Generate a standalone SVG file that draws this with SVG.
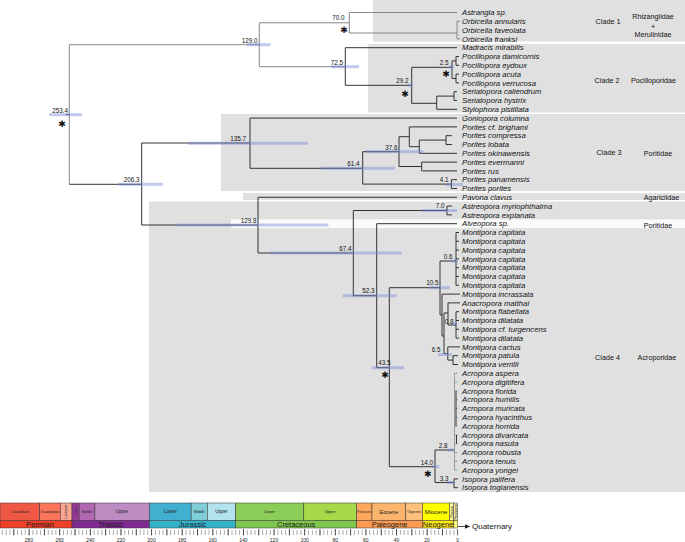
<svg xmlns="http://www.w3.org/2000/svg" width="685" height="542" viewBox="0 0 685 542">
<defs>
<style>
.sp{font-family:"Liberation Sans",Arial,sans-serif;font-style:italic;font-size:7.7px;fill:#111}
.lb{font-family:"Liberation Sans",Arial,sans-serif;font-size:7.2px;fill:#111;text-anchor:middle}
.nd{font-family:"Liberation Sans",Arial,sans-serif;font-size:6.3px;fill:#111;text-anchor:end}
.ast{font-family:"DejaVu Sans",sans-serif;font-size:9px;font-weight:bold;fill:#111;text-anchor:middle}
.panel{fill:#e0e0e0}
.br{fill:none;stroke:#333;stroke-width:1}
.lt{fill:none;stroke:#888;stroke-width:1}
.ac{fill:none;stroke:#999;stroke-width:1}
.bar{fill:#7889d6;opacity:.45}
.ep{stroke:#333;stroke-width:.5}
.et{font-family:"Liberation Sans",Arial,sans-serif;fill:#222;text-anchor:middle}
.pt{font-family:"Liberation Sans",Arial,sans-serif;font-size:7.5px;fill:#1a1a1a;text-anchor:middle}
.num{font-family:"Liberation Sans",Arial,sans-serif;font-size:5px;fill:#222;text-anchor:middle}
</style>
<pattern id="tk" patternUnits="userSpaceOnUse" x="-2" y="0" width="3.8275" height="542"><rect x="0" y="530" width="0.7" height="5" fill="#888"/></pattern>
<pattern id="tk2" patternUnits="userSpaceOnUse" x="-2" y="0" width="15.31" height="542"><rect x="0" y="529" width="0.8" height="6.5" fill="#333"/></pattern>
<marker id="ah" markerWidth="6" markerHeight="6" refX="5" refY="3" orient="auto" markerUnits="userSpaceOnUse"><path d="M0,0.8 L5,3 L0,5.2z" fill="#222"/></marker>
</defs>
<rect width="685" height="542" fill="#fff"/>

<g id="panels">
<rect class="panel" x="373" y="0" width="312" height="41.5"/>
<rect class="panel" x="368" y="44" width="317" height="68.5"/>
<rect class="panel" x="221" y="114" width="464" height="77"/>
<rect class="panel" x="243" y="193" width="442" height="7"/>
<rect class="panel" x="149" y="201.5" width="536" height="290.5"/>
<rect x="231" y="219.3" width="454" height="8.8" fill="#fafafa"/>
</g>

<g id="connectors">
<path class="lt" d="M69.3,44.7V184.3M69.3,44.7H259.3M259.3,22.8V66.7M259.3,22.8H349.3M259.3,66.7H345.3M349.3,12.5V33M349.3,12.5H457M349.3,33H457M457,21.3V38.9M457,21.3H460M457,38.9H460"/>
<path class="br" d="M65.7,114.7H69.3M69.3,184.3H141.7
M345.3,47.7V85.3M345.3,47.7H457M345.3,85.3H411.7M411.7,67.3V103.3M411.7,67.3H452M411.7,103.3H436.7
M452,60.9V78.5M452,60.9H456M456,56.5V65.3M456,56.5H459M456,65.3H459M452,78.5H456M456,74.1V82.9M456,74.1H459M456,82.9H459
M436.7,96.1V109.3M436.7,96.1H454M454,91.7V100.5M454,91.7H457M454,100.5H457M436.7,109.3H457
M141.7,143V225M141.7,143H250M141.7,225H258
M250,118.1V168.3M250,118.1H457M250,168.3H362.7
M362.7,151.7V184.1M362.7,151.7H399M362.7,184.1H451.4
M399,136.7V166.5M399,136.7H409.3M399,166.5H421.7
M409.3,126.9V146.7M409.3,126.9H457M409.3,146.7H419.3
M419.3,140.1V153.3M419.3,140.1H446M419.3,153.3H457
M446,135.7V144.5M446,135.7H452M446,144.5H452
M421.7,162.1V170.9M421.7,162.1H457M421.7,170.9H457
M451.4,179.7V188.5M451.4,179.7H457M451.4,188.5H457
M258,197.3V253M258,197.3H457M258,253H353.3
M353.3,210.5V295.7M353.3,210.5H447M353.3,295.7H376.7
M447,206.1V214.9M447,206.1H452M447,214.9H452
M376.7,223.7V367.7M376.7,223.7H457M376.7,367.7H389.3
M389.3,287.7V466.7M389.3,287.7H440M389.3,466.7H435
M440,261V315M440,261H456M456,232.5V285.3M456,232.5H459M456,241.3H459M456,250.1H459M456,258.9H459M456,267.7H459M456,276.5H459M456,285.3H459
M440,315H442M442,294.1V336M442,294.1H460M442,336H444
M444,313V353.5M444,313H448M444,353.5H447.8
M448,302.9V325M448,302.9H460M448,325H456
M456,311.7V338.1M456,311.7H459M456,320.5H459M456,329.3H459M456,338.1H459
M447.8,346.9V360.1M447.8,346.9H460M447.8,360.1H453
M453,355.7V364.5M453,355.7H458M453,364.5H458
M435,450V482.5M435,450H454.5M435,482.5H454
M454,478.9V487.7M454,478.9H458M454,487.7H458"/>
<path class="ac" d="M454.5,373.3V470.1M454.5,373.3H457.5M454.5,382.1H457.5M454.5,390.9H457.5M454.5,399.7H457.5M454.5,408.5H457.5M454.5,417.3H457.5M454.5,426.1H457.5M454.5,434.9H457.5M454.5,443.7H457.5M454.5,452.5H457.5M454.5,461.3H457.5M454.5,470.1H457.5"/>
<path class="br" d="M456,390.9V426.1M456.5,434.9V443.7"/>
</g>

<g id="n253"><rect class="bar" x="49" y="113.2" width="33" height="3"/><text class="nd" x="68" y="112.5">253.4</text><text class="ast" x="62" y="126.5">✱</text></g>
<g id="n206"><rect class="bar" x="118" y="182.8" width="45" height="3"/><text class="nd" x="139.5" y="182">206.3</text></g>
<g id="n129a"><rect class="bar" x="246.7" y="43.2" width="24" height="3"/><text class="nd" x="257.5" y="42.5">129.0</text></g>
<g id="n70"><text class="nd" x="344.5" y="20.3">70.0</text><text class="ast" x="344" y="33.2">✱</text></g>
<g id="n72"><rect class="bar" x="331" y="65.2" width="28" height="3"/><text class="nd" x="343" y="64.5">72.5</text></g>
<g id="n29"><rect class="bar" x="407.7" y="83.8" width="5" height="3"/><text class="nd" x="408.5" y="83">29.2</text><text class="ast" x="405" y="96.5">✱</text></g>
<g id="n2_5"><rect class="bar" x="449" y="65.2" width="5" height="3"/><text class="nd" x="448.5" y="64.5">2.5</text><text class="ast" x="446" y="77.2">✱</text></g>
<g id="n135"><rect class="bar" x="188" y="141.8" width="120" height="3"/><text class="nd" x="246" y="140.7">135.7</text></g>
<g id="n61"><rect class="bar" x="321" y="166.8" width="74" height="3"/><text class="nd" x="359.5" y="166">61.4</text></g>
<g id="n37"><rect class="bar" x="365.7" y="150.2" width="57.6" height="3"/><text class="nd" x="397.5" y="149.5">37.6</text></g>
<g id="n4"><rect class="bar" x="446" y="183" width="17" height="3"/><text class="nd" x="448.5" y="182">4.1</text></g>
<g id="n129b"><rect class="bar" x="176.7" y="223.5" width="151.6" height="3"/><text class="nd" x="256.5" y="222.7">129.8</text></g>
<g id="n7"><rect class="bar" x="422" y="209" width="35" height="3"/><text class="nd" x="444.5" y="208.3">7.0</text></g>
<g id="n67"><rect class="bar" x="270" y="251.5" width="131.7" height="3"/><text class="nd" x="351.5" y="250.7">67.4</text></g>
<g id="n52"><rect class="bar" x="342.7" y="294.2" width="54" height="3"/><text class="nd" x="374.5" y="293.3">52.3</text></g>
<g id="n43"><rect class="bar" x="371.7" y="366.2" width="32.3" height="3"/><text class="nd" x="390.5" y="365.3">43.5</text><text class="ast" x="385" y="377.5">✱</text></g>
<g id="n10"><rect class="bar" x="429" y="286.2" width="21" height="3"/><text class="nd" x="438.5" y="285.3">10.5</text></g>
<g id="n0_6"><rect class="bar" x="451.7" y="259.5" width="6.3" height="3"/><text class="nd" x="452.5" y="258.8">0.6</text></g>
<g id="n0_8"><rect class="bar" x="453" y="322" width="4" height="3"/><text class="nd" x="453.5" y="324">0.8</text></g>
<g id="n6_5"><rect class="bar" x="438" y="353" width="14" height="3"/><text class="nd" x="440.5" y="352.3">6.5</text></g>
<g id="n14"><rect class="bar" x="432.7" y="465.2" width="6.6" height="3"/><text class="nd" x="433" y="464.5">14.0</text><text class="ast" x="427.7" y="476.5">✱</text></g>
<g id="n2_8"><rect class="bar" x="447.3" y="448.5" width="6.7" height="3"/><text class="nd" x="447.5" y="448">2.8</text></g>
<g id="n3_3"><rect class="bar" x="446.7" y="481" width="7.3" height="3"/><text class="nd" x="448.5" y="480.5">3.3</text></g>

<g id="taxa">
<g id="t1"><text class="sp" x="462" y="15.2">Astrangia sp.</text></g>
<g id="t2"><text class="sp" x="462" y="24">Orbicella annularis</text></g>
<g id="t3"><text class="sp" x="462" y="32.8">Orbicella faveolata</text></g>
<g id="t4"><text class="sp" x="462" y="41.6">Orbicella franksi</text></g>
<g id="t5"><text class="sp" x="462" y="50.4">Madracis mirabilis</text></g>
<g id="t6"><text class="sp" x="462" y="59.2">Pocillopora damicornis</text></g>
<g id="t7"><text class="sp" x="462" y="68">Pocillopora eydoux</text></g>
<g id="t8"><text class="sp" x="462" y="76.8">Pocillopora acuta</text></g>
<g id="t9"><text class="sp" x="462" y="85.6">Pocillopora verrucosa</text></g>
<g id="t10"><text class="sp" x="462" y="94.4">Seriatopora caliendrum</text></g>
<g id="t11"><text class="sp" x="462" y="103.2">Seriatopora hystrix</text></g>
<g id="t12"><text class="sp" x="462" y="112">Stylophora pistillata</text></g>
<g id="t13"><text class="sp" x="462" y="120.8">Goniopora columna</text></g>
<g id="t14"><text class="sp" x="462" y="129.6">Porites cf. brighami</text></g>
<g id="t15"><text class="sp" x="462" y="138.4">Porites compressa</text></g>
<g id="t16"><text class="sp" x="462" y="147.2">Porites lobata</text></g>
<g id="t17"><text class="sp" x="462" y="156">Porites okinawensis</text></g>
<g id="t18"><text class="sp" x="462" y="164.8">Porites evermanni</text></g>
<g id="t19"><text class="sp" x="462" y="173.6">Porites rus</text></g>
<g id="t20"><text class="sp" x="462" y="182.4">Porites panamensis</text></g>
<g id="t21"><text class="sp" x="462" y="191.2">Porites porites</text></g>
<g id="t22"><text class="sp" x="462" y="200">Pavona clavus</text></g>
<g id="t23"><text class="sp" x="462" y="208.8">Astreopora myriophthalma</text></g>
<g id="t24"><text class="sp" x="462" y="217.6">Astreopora explanata</text></g>
<g id="t25"><text class="sp" x="462" y="226.4">Alveopora sp.</text></g>
<g id="t26"><text class="sp" x="462" y="235.2">Montipora capitata</text></g>
<g id="t27"><text class="sp" x="462" y="244">Montipora capitata</text></g>
<g id="t28"><text class="sp" x="462" y="252.8">Montipora capitata</text></g>
<g id="t29"><text class="sp" x="462" y="261.6">Montipora capitata</text></g>
<g id="t30"><text class="sp" x="462" y="270.4">Montipora capitata</text></g>
<g id="t31"><text class="sp" x="462" y="279.2">Montipora capitata</text></g>
<g id="t32"><text class="sp" x="462" y="288">Montipora capitata</text></g>
<g id="t33"><text class="sp" x="462" y="296.8">Montipora incrassata</text></g>
<g id="t34"><text class="sp" x="462" y="305.6">Anacropora matthai</text></g>
<g id="t35"><text class="sp" x="462" y="314.4">Montipora flabellata</text></g>
<g id="t36"><text class="sp" x="462" y="323.2">Montipora dilatata</text></g>
<g id="t37"><text class="sp" x="462" y="332">Montipora cf. turgencens</text></g>
<g id="t38"><text class="sp" x="462" y="340.8">Montipora dilatata</text></g>
<g id="t39"><text class="sp" x="462" y="349.6">Montipora cactus</text></g>
<g id="t40"><text class="sp" x="462" y="358.4">Montipora patula</text></g>
<g id="t41"><text class="sp" x="462" y="367.2">Montipora verrilli</text></g>
<g id="t42"><text class="sp" x="462" y="376">Acropora aspera</text></g>
<g id="t43"><text class="sp" x="462" y="384.8">Acropora digitifera</text></g>
<g id="t44"><text class="sp" x="462" y="393.6">Acropora florida</text></g>
<g id="t45"><text class="sp" x="462" y="402.4">Acropora humilis</text></g>
<g id="t46"><text class="sp" x="462" y="411.2">Acropora muricata</text></g>
<g id="t47"><text class="sp" x="462" y="420">Acropora hyacinthus</text></g>
<g id="t48"><text class="sp" x="462" y="428.8">Acropora horrida</text></g>
<g id="t49"><text class="sp" x="462" y="437.6">Acropora divaricata</text></g>
<g id="t50"><text class="sp" x="462" y="446.4">Acropora nasuta</text></g>
<g id="t51"><text class="sp" x="462" y="455.2">Acropora robusta</text></g>
<g id="t52"><text class="sp" x="462" y="464">Acropora tenuis</text></g>
<g id="t53"><text class="sp" x="462" y="472.8">Acropora yongei</text></g>
<g id="t54"><text class="sp" x="462" y="481.6">Isopora palifera</text></g>
<g id="t55"><text class="sp" x="462" y="490.4">Isopora togianensis</text></g>
</g>

<g id="clade-labels">
<text class="lb" x="608" y="23.5">Clade 1</text>
<text class="lb" x="653" y="19.2">Rhizangiidae</text>
<text class="lb" x="653" y="28.5">+</text>
<text class="lb" x="653" y="37">Merulinidae</text>
<text class="lb" x="607" y="82.5">Clade 2</text>
<text class="lb" x="653.5" y="82.5">Pocilloporidae</text>
<text class="lb" x="609" y="155">Clade 3</text>
<text class="lb" x="658" y="155.5">Poritidae</text>
<text class="lb" x="661.5" y="199.6">Agariciidae</text>
<text class="lb" x="658" y="227.5">Poritidae</text>
<text class="lb" x="607.5" y="360">Clade 4</text>
<text class="lb" x="657" y="360">Acroporidae</text>
</g>

<g id="timescale">
<g class="ep">
<rect x="0" y="503" width="39.7" height="17.3" fill="#EF5845"/>
<rect x="39.7" y="503" width="20.7" height="17.3" fill="#FB745C"/>
<rect x="60.4" y="503" width="11.6" height="17.3" fill="#FBA794"/>
<rect x="72" y="503" width="7.2" height="17.3" fill="#983999"/>
<rect x="79.2" y="503" width="15.7" height="17.3" fill="#B168B1"/>
<rect x="94.9" y="503" width="54.6" height="17.3" fill="#BD8CC3"/>
<rect x="149.5" y="503" width="41.7" height="17.3" fill="#42AED0"/>
<rect x="191.2" y="503" width="16.2" height="17.3" fill="#80CFD8"/>
<rect x="207.4" y="503" width="28.3" height="17.3" fill="#B3E3EE"/>
<rect x="235.7" y="503" width="68.1" height="17.3" fill="#8CCD57"/>
<rect x="303.8" y="503" width="52.9" height="17.3" fill="#A6D84A"/>
<rect x="356.7" y="503" width="15.3" height="17.3" fill="#FDA75F"/>
<rect x="372" y="503" width="33.8" height="17.3" fill="#FDB46C"/>
<rect x="405.8" y="503" width="16.7" height="17.3" fill="#FEC07A"/>
<rect x="422.5" y="503" width="27.1" height="17.3" fill="#FFFF00"/>
<rect x="449.6" y="503" width="4.2" height="17.3" fill="#FFFF99"/>
<rect x="453.8" y="503" width="3.9" height="17.3" fill="#FFF2AE"/>
<rect x="0" y="520.3" width="72" height="7.7" fill="#F04028"/>
<rect x="72" y="520.3" width="77.5" height="7.7" fill="#812B92"/>
<rect x="149.5" y="520.3" width="86.2" height="7.7" fill="#34B2C9"/>
<rect x="235.7" y="520.3" width="121" height="7.7" fill="#7FC64E"/>
<rect x="356.7" y="520.3" width="65.8" height="7.7" fill="#FD9A52"/>
<rect x="422.5" y="520.3" width="31.3" height="7.7" fill="#FFE619"/>
<rect x="453.8" y="520.3" width="3.9" height="7.7" fill="#F9F97F"/>
</g>
<text class="et" x="19.8" y="513" font-size="4">Cisuralian</text>
<text class="et" x="50" y="512.8" font-size="3.3">Guadalupian</text>
<text class="et" font-size="3.3" transform="translate(67.4,511.7) rotate(-90)">Lopingian</text>
<text class="et" font-size="3.5" transform="translate(76.9,511.7) rotate(-90)">Lower</text>
<text class="et" x="87" y="513" font-size="3.5">Middle</text>
<text class="et" x="122.2" y="513.2" font-size="4.5">Upper</text>
<text class="et" x="170.3" y="513.3" font-size="4.8">Lower</text>
<text class="et" x="199.3" y="513" font-size="3.8">Middle</text>
<text class="et" x="221.5" y="513.2" font-size="4.5">Upper</text>
<text class="et" x="269.7" y="513" font-size="4">Lower</text>
<text class="et" x="330.2" y="513" font-size="4">Upper</text>
<text class="et" x="364.3" y="512.7" font-size="3">Paleocene</text>
<text class="et" x="388.9" y="513.6" font-size="5.5">Eocene</text>
<text class="et" x="414.1" y="512.8" font-size="3.1">Oligocene</text>
<text class="et" x="436" y="513.9" font-size="6">Miocene</text>
<text class="et" font-size="3" transform="translate(452.7,511.7) rotate(-90)">Pliocene</text>
<text class="et" font-size="3" transform="translate(456.8,511.7) rotate(-90)">Pleistocene</text>
<text class="pt" x="40" y="527">Permian</text>
<text class="pt" x="110.7" y="527">Triassic</text>
<text class="pt" x="192.6" y="527">Jurassic</text>
<text class="pt" x="296.2" y="527">Cretaceous</text>
<text class="pt" x="389.6" y="527">Paleogene</text>
<text class="pt" x="438.1" y="527">Neogene</text>
<path d="M458,526.5H470" stroke="#222" stroke-width="0.8" marker-end="url(#ah)"/>
<text x="472" y="529" font-family="Liberation Sans, Arial, sans-serif" font-size="8" fill="#111">Quaternary</text>
<rect x="0" y="529" width="458.2" height="7" fill="url(#tk)"/>
<rect x="0" y="529" width="458.2" height="7" fill="url(#tk2)"/>
<text class="num" x="29" y="541.5">280</text>
<text class="num" x="59.6" y="541.5">260</text>
<text class="num" x="90.3" y="541.5">240</text>
<text class="num" x="120.9" y="541.5">220</text>
<text class="num" x="151.5" y="541.5">200</text>
<text class="num" x="182.1" y="541.5">180</text>
<text class="num" x="212.7" y="541.5">160</text>
<text class="num" x="243.4" y="541.5">140</text>
<text class="num" x="274" y="541.5">120</text>
<text class="num" x="304.6" y="541.5">100</text>
<text class="num" x="335.2" y="541.5">80</text>
<text class="num" x="365.8" y="541.5">60</text>
<text class="num" x="396.5" y="541.5">40</text>
<text class="num" x="427.1" y="541.5">20</text>
<text class="num" x="457.7" y="541.5">0</text>
</g>
</svg>
